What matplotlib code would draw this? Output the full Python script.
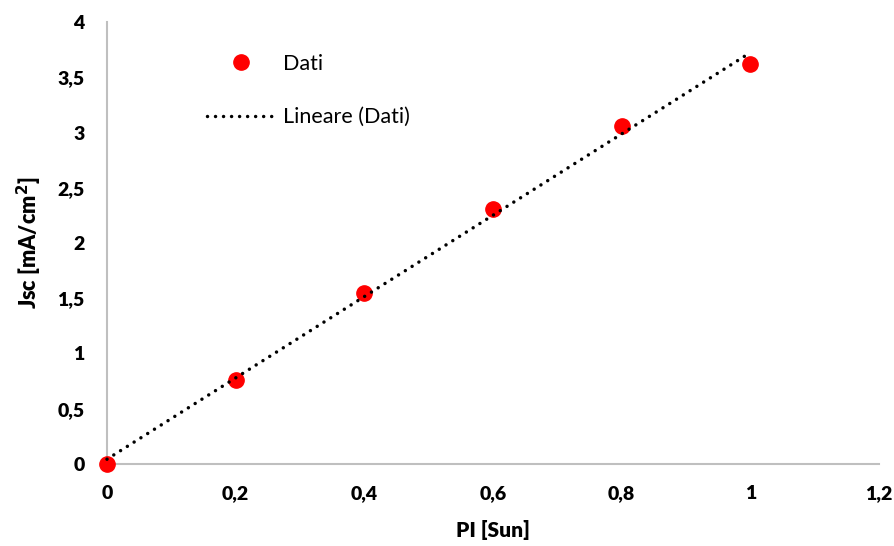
"""Jsc vs light intensity with linear trendline."""

import matplotlib

matplotlib.use("Agg")
import matplotlib.pyplot as plt
import numpy as np
from matplotlib.ticker import FuncFormatter

plt.rcParams["font.family"] = ["Lato", "DejaVu Sans"]

pi_sun = np.array([0.0, 0.2, 0.4, 0.6, 0.8, 1.0])
jsc = np.array([0.0, 0.76, 1.55, 2.31, 3.06, 3.62])

x_ticks = [0, 0.2, 0.4, 0.6, 0.8, 1.0, 1.2]
y_ticks = [0, 0.5, 1, 1.5, 2, 2.5, 3, 3.5, 4]

fig = plt.figure(figsize=(8.95, 5.46), dpi=100)
ax = fig.add_axes([107 / 895, 1 - 464 / 546, (879 - 107) / 895, (464 - 22) / 546])

slope, intercept = np.polyfit(pi_sun, jsc, 1)
xfit = np.array([pi_sun.min(), pi_sun.max()])

ax.plot(pi_sun, jsc, "o", color="#FF0000", markersize=11, label="Dati",
        clip_on=False, zorder=3)
ax.plot(xfit, slope * xfit + intercept, color="black", lw=2.5,
        linestyle=(0, (0.01, 2.3)), dash_capstyle="round",
        label="Lineare (Dati)", clip_on=False, zorder=4)

ax.set_xlim(0, 1.2)
ax.set_ylim(0, 4)
ax.set_xticks(x_ticks)
ax.set_yticks(y_ticks)
fmt = FuncFormatter(lambda v, _: f"{v:g}".replace(".", ","))
ax.xaxis.set_major_formatter(fmt)
ax.yaxis.set_major_formatter(fmt)
ax.tick_params(length=0, labelsize=14)
ax.tick_params(axis="y", pad=16)
ax.tick_params(axis="x", pad=15)
for lab in ax.get_xticklabels() + ax.get_yticklabels():
    lab.set_fontweight("heavy")

for s in ["top", "right"]:
    ax.spines[s].set_visible(False)
for s in ["left", "bottom"]:
    ax.spines[s].set_color("#BFBFBF")
    ax.spines[s].set_linewidth(1.5)

ax.set_xlabel("PI [Sun]", fontsize=15, fontweight="heavy", labelpad=13)
ax.set_ylabel("Jsc [mA/cm$^\\mathbf{2}$]", fontsize=15.5, fontweight="heavy",
              labelpad=10)

ax.legend(loc="center left", bbox_to_anchor=(207 / 895, 1 - 90.5 / 546),
          bbox_transform=fig.transFigure, frameon=False, fontsize=15.5,
          handlelength=3.15, handletextpad=0.37, labelspacing=1.55,
          borderpad=0, borderaxespad=0)

fig.savefig("out.png", dpi=100)
